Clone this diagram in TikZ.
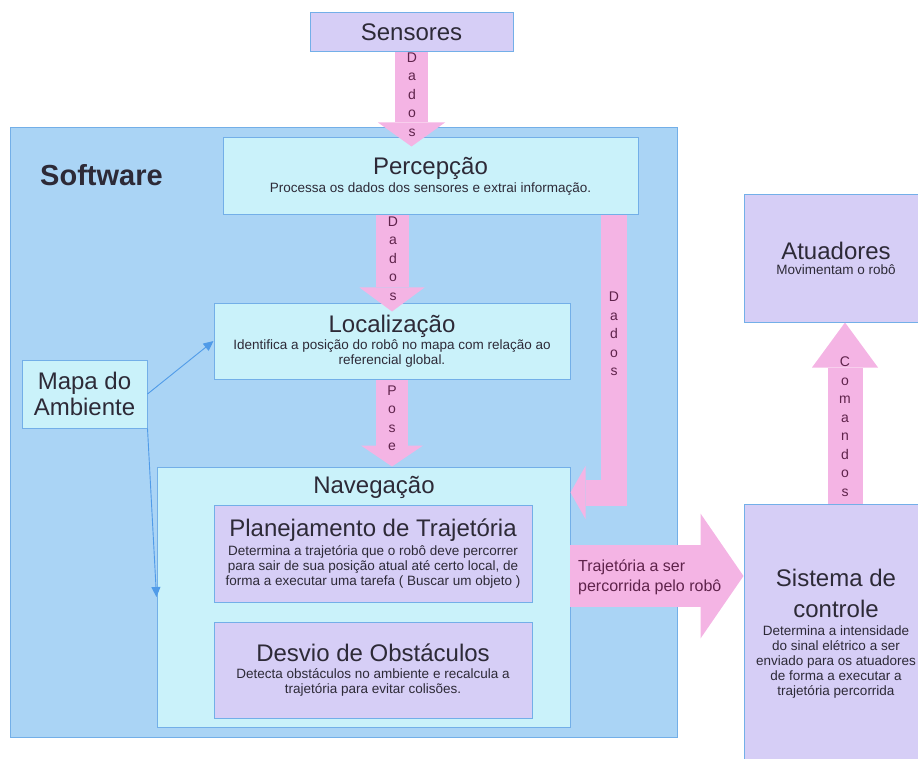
\documentclass[tikz,border=0pt]{standalone}
\usepackage{fontspec}
\setmainfont{Liberation Sans}
\usetikzlibrary{positioning,arrows.meta,calc}
\definecolor{azulsw}{RGB}{170,212,245}
\definecolor{ciano}{RGB}{202,242,250}
\definecolor{lilas}{RGB}{214,206,246}
\definecolor{rosa}{RGB}{244,180,228}
\definecolor{borda}{RGB}{115,175,232}
\definecolor{linha}{RGB}{80,155,232}
\definecolor{texto}{RGB}{45,42,55}
\definecolor{textorosa}{RGB}{95,35,75}
\newcommand{\titulo}{\fontsize{24}{27}\selectfont}
\newcommand{\descr}{\fontsize{13.5}{15}\selectfont}
\tikzset{
  sw/.style={rectangle, draw=borda, fill=azulsw, line width=1pt, inner sep=0pt},
  cx/.style={rectangle, draw=borda, fill=ciano, line width=1pt, inner sep=0pt, align=center, text=texto, font=\descr},
  lv/.style={rectangle, draw=borda, fill=lilas, line width=1pt, inner sep=0pt, align=center, text=texto, font=\descr},
  seta/.style={draw=rosa},
  letras/.style={align=center, text=textorosa, font=\fontsize{14}{18.5}\selectfont, inner sep=0pt},
  fina/.style={draw=linha, line width=0.9pt, -{Triangle[width=9pt,length=10pt]}},
  node distance=19pt
}

\begin{document}
\begin{tikzpicture}[x=1pt, y=-1pt]
\useasboundingbox (0,0) rectangle (918,759);
\clip (0,0) rectangle (918,759);
% caixa do software
\node[sw, minimum width=667pt, minimum height=609pt] (soft) at (343.5,432.5) {};
\node[font=\bfseries\fontsize{29}{32}\selectfont, text=texto, inner sep=0pt, anchor=west] (swtit) at (40,175) {Software};

% blocos
\node[lv, minimum width=203pt, minimum height=39pt, font=\titulo] (sens) at (411.5,32.5) {Sensores};
\node[cx, minimum width=415pt, minimum height=77pt] (perc) at (430.5,176.5) {{\titulo Percepção}\\[3.5pt] Processa os dados dos sensores e extrai informação.};
\node[cx, minimum width=356pt, minimum height=76pt] (loc) at (392,341) {{\titulo Localização}\\[1.5pt] Identifica a posição do robô no mapa com relação ao\\ referencial global.};
\node[cx, minimum width=125pt, minimum height=68pt, font=\fontsize{24}{26}\selectfont] (mapa) at (84.5,394) {Mapa do\\Ambiente};
\node[cx, minimum width=413pt, minimum height=260pt] (nav) at (363.5,597) {};
\node[text=texto, font=\titulo, inner sep=0pt] (navtit) at ([xshift=10.5pt,yshift=-21pt]nav.north) {Navegação};
\node[lv, minimum width=318pt, minimum height=97pt] (plan) at (373,553.5) {{\titulo Planejamento de Trajetória}\\[4.5pt] Determina a trajetória que o robô deve percorrer\\ para sair de sua posição atual até certo local, de\\ forma a executar uma tarefa ( Buscar um objeto )};
\node[lv, minimum width=318pt, minimum height=96pt, below=19pt of plan] (desv) {{\titulo Desvio de Obstáculos}\\[2.5pt] Detecta obstáculos no ambiente e recalcula a\\ trajetória para evitar colisões.};
\node[lv, minimum width=184pt, minimum height=127pt] (atu) at (836,258.5) {{\titulo Atuadores}\\ Movimentam o robô};
\node[lv, minimum width=184pt, minimum height=260pt] (sis) at (836,634) {{\titulo Sistema de}\\[12pt] {\titulo controle}\\[3.5pt] Determina a intensidade\\ do sinal elétrico a ser\\ enviado para os atuadores\\ de forma a executar a\\ trajetória percorrida};

% setas grandes
\draw[seta, line width=33pt, -{Triangle[width=67pt,length=24pt,line width=0pt]}] (sens.south) -- ($(sens.south |- perc.north)+(0,9)$);
\draw[seta, line width=33pt, -{Triangle[width=65pt,length=24pt,line width=0pt]}] (loc.north |- perc.south) -- ($(loc.north)+(0,9)$);
\draw[seta, line width=32pt, -{Triangle[width=62pt,length=21pt,line width=0pt]}] (loc.south) -- (nav.north -| loc.south);
\draw[seta, line width=26pt, -{Triangle[width=53pt,length=15pt,line width=0pt]}] ($(perc.south east)+(-24.5,0)$) |- ($(nav.east)+(0,-104.5)$);
\coordinate (trj) at (570,576);
\draw[seta, line width=62pt, -{Triangle[width=125pt,length=43pt,line width=0pt]}] (trj) -- (trj -| sis.west);
\draw[seta, line width=35pt, -{Triangle[width=66pt,length=45pt,line width=0pt]}] ($(sis.north)+(9,0)$) -- ($(atu.south)+(9,0)$);

% textos das setas
\node[letras] (l1) at (412,94.5) {D\\a\\d\\o\\s};
\node[letras] (l2) at (393,258.5) {D\\a\\d\\o\\s};
\node[letras] (l3) at (392,418.5) {P\\o\\s\\e};
\node[letras] (l4) at (614,334) {D\\a\\d\\o\\s};
\node[letras] (l5) at (845,426.5) {C\\o\\m\\a\\n\\d\\o\\s};
\node[text=textorosa, font=\fontsize{16}{20}\selectfont, align=left, anchor=west, inner sep=0pt] (trjtxt) at (578,577) {Trajetória a ser\\percorrida pelo robô};

% mapa
\draw[fina] (mapa.east) -- (loc.west);
\draw[fina] (mapa.south east) -- (nav.west);
\end{tikzpicture}
\end{document}
